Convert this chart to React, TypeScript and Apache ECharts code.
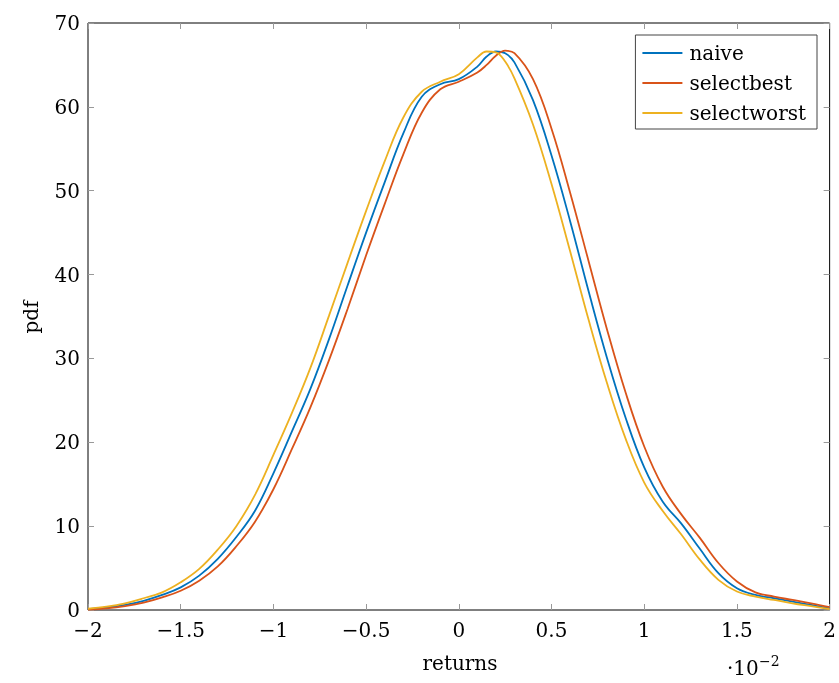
import React, { useEffect, useRef } from "react";
import * as echarts from "echarts";

const xs = [-2, -1.9, -1.8, -1.7, -1.6, -1.5, -1.4, -1.3, -1.2, -1.1, -1.0, -0.9, -0.8, -0.7, -0.6, -0.5, -0.4, -0.3, -0.2, -0.1, 0.0, 0.1, 0.15, 0.2, 0.25, 0.3, 0.4, 0.5, 0.6, 0.7, 0.8, 0.9, 1.0, 1.1, 1.2, 1.3, 1.4, 1.5, 1.6, 1.7, 1.8, 1.9, 2.0];

const naive = [0.1, 0.3, 0.6, 1.1, 1.8, 2.7, 4.1, 6.1, 8.7, 11.8, 16.3, 21.3, 26.4, 32.3, 38.7, 45.0, 51.0, 56.8, 61.2, 62.7, 63.3, 64.8, 66.0, 66.6, 66.4, 65.3, 60.8, 54.2, 46.4, 38.0, 30.0, 22.9, 17.0, 12.9, 10.3, 7.3, 4.4, 2.6, 1.8, 1.4, 1.0, 0.6, 0.2];

const selectbest = [0.05, 0.2, 0.47, 0.88, 1.5, 2.3, 3.5, 5.2, 7.6, 10.5, 14.4, 19.2, 24.2, 29.8, 35.9, 42.3, 48.4, 54.3, 59.3, 62.1, 63.0, 64.1, 65.0, 66.1, 66.7, 66.4, 63.3, 57.4, 49.8, 41.6, 33.4, 25.9, 19.5, 14.7, 11.4, 8.6, 5.6, 3.4, 2.1, 1.6, 1.2, 0.8, 0.35];

const selectworst = [0.15, 0.4, 0.8, 1.4, 2.1, 3.3, 4.9, 7.2, 10.0, 13.7, 18.5, 23.5, 28.9, 35.1, 41.4, 47.6, 53.5, 58.7, 61.8, 63.0, 63.9, 65.9, 66.6, 66.5, 65.4, 63.4, 57.9, 50.8, 42.8, 34.6, 27.0, 20.4, 15.2, 11.8, 9.0, 6.0, 3.6, 2.2, 1.6, 1.2, 0.8, 0.45, 0.1];

const seriesNames = ["naive", "selectbest", "selectworst"];
const seriesColors = ["#0072BD", "#D95319", "#EDB120"];

const FONT = "DejaVu Serif";

export default function App() {
  const ref = useRef<HTMLDivElement>(null);
  useEffect(() => {
    if (!ref.current) return;
    const chart = echarts.init(ref.current, undefined, { renderer: "svg" });
    const all = [naive, selectbest, selectworst];
    const fmt = (v: number) => String(v).replace("-", "\u2212");
    const tick = { show: true, inside: true, length: 6, lineStyle: { color: "#999", width: 1 } };
    const noLine = { show: false, onZero: false };
    chart.setOption({
      animation: false,
      grid: { left: 88, top: 23, right: 8, bottom: 73, show: true, borderColor: "#000", borderWidth: 1 },
      legend: {
        orient: "vertical",
        right: 22,
        top: 35,
        icon: "rect",
        itemWidth: 40,
        itemHeight: 2,
        itemGap: 10,
        padding: [8, 11, 6, 7],
        borderColor: "#444",
        borderWidth: 1,
        borderRadius: 0,
        backgroundColor: "#fff",
        textStyle: { fontFamily: FONT, fontSize: 20, color: "#000", padding: [0, 0, 0, 2] },
        data: seriesNames,
      },
      xAxis: [
        {
          type: "value", min: -2, max: 2, interval: 0.5,
          axisLine: noLine, splitLine: { show: false },
          axisTick: tick,
          axisLabel: { formatter: fmt, fontFamily: FONT, fontSize: 20, color: "#000", margin: 10 },
        },
        {
          type: "value", position: "top", min: -2, max: 2, interval: 0.5,
          axisLine: noLine, splitLine: { show: false },
          axisTick: tick, axisLabel: { show: false },
        },
      ],
      yAxis: [
        {
          type: "value", min: 0, max: 70, interval: 10,
          axisLine: noLine, splitLine: { show: false },
          axisTick: tick,
          axisLabel: { formatter: fmt, fontFamily: FONT, fontSize: 20, color: "#000", margin: 8 },
        },
        {
          type: "value", position: "right", min: 0, max: 70, interval: 10,
          axisLine: noLine, splitLine: { show: false },
          axisTick: tick, axisLabel: { show: false },
        },
      ],
      series: all.map((arr, i) => ({
        name: seriesNames[i],
        type: "line",
        xAxisIndex: 0,
        yAxisIndex: 0,
        data: xs.map((x, j) => [x, arr[j]]),
        smooth: 0.4,
        showSymbol: false,
        symbol: "none",
        color: seriesColors[i],
        lineStyle: { width: 1.8, color: seriesColors[i] },
      })),
      graphic: [
        { type: "text", x: 460, y: 663, style: { text: "returns", font: `20px "${FONT}"`, fill: "#000", align: "center", verticalAlign: "middle" } },
        { type: "text", x: 31, y: 317, rotation: Math.PI / 2, style: { text: "pdf", font: `20px "${FONT}"`, fill: "#000", align: "center", verticalAlign: "middle" } },
        { type: "text", x: 727, y: 668, style: { text: "\u00b710", font: `20px "${FONT}"`, fill: "#000", align: "left", verticalAlign: "middle" } },
        { type: "text", x: 759, y: 661, style: { text: "\u22122", font: `14px "${FONT}"`, fill: "#000", align: "left", verticalAlign: "middle" } },
      ],
    });
    return () => chart.dispose();
  }, []);
  return <div ref={ref} style={{ position: "fixed", left: 0, top: 0, width: 839, height: 683 }} />;
}
